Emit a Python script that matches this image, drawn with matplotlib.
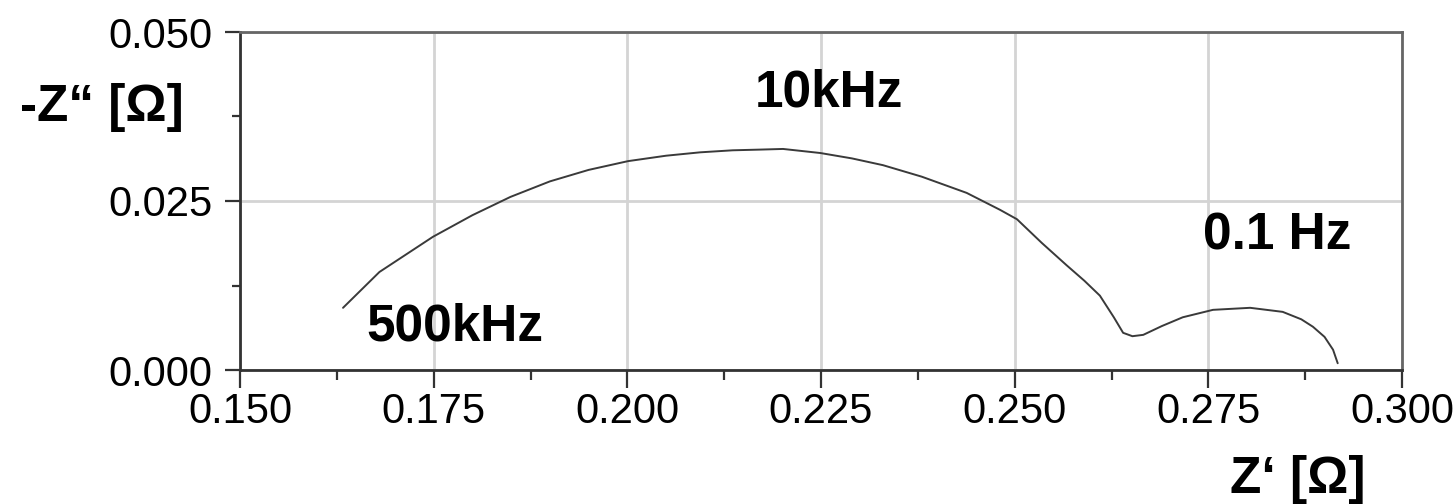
import matplotlib
matplotlib.use("Agg")
import matplotlib.pyplot as plt
from matplotlib.ticker import MultipleLocator, FormatStrFormatter

# Nyquist plot: real part Z' vs. negative imaginary part -Z''
z_real = [0.1633, 0.1680, 0.1749, 0.1800, 0.1849, 0.1900, 0.1950, 0.2001,
          0.2050, 0.2094, 0.2136, 0.2170, 0.2201, 0.2249, 0.2290, 0.2330,
          0.2380, 0.2438, 0.2481, 0.2503, 0.2535, 0.2567, 0.2590, 0.2610,
          0.2628, 0.2640, 0.2652, 0.2666, 0.2690, 0.2717, 0.2756, 0.2804,
          0.2846, 0.2870, 0.2885, 0.2900, 0.2911, 0.2917]
z_imag_neg = [0.0092, 0.0145, 0.0197, 0.0229, 0.0256, 0.0279, 0.0296, 0.0309,
              0.0317, 0.0322, 0.0325, 0.0326, 0.0327, 0.0321, 0.0313, 0.0303,
              0.0286, 0.0262, 0.0237, 0.0223, 0.0188, 0.0155, 0.0132, 0.0110,
              0.0078, 0.0055, 0.0050, 0.0052, 0.0065, 0.0078, 0.0089, 0.0092,
              0.0086, 0.0075, 0.0064, 0.0049, 0.0030, 0.0010]

x_ticks = [0.150, 0.175, 0.200, 0.225, 0.250, 0.275, 0.300]
y_ticks = [0.000, 0.025, 0.050]

freq_labels = ["500kHz", "10kHz", "0.1 Hz"]

W, H, DPI = 1456, 504, 100
plt.rcParams['font.family'] = ['Liberation Sans', 'DejaVu Sans']

fig = plt.figure(figsize=(W / DPI, H / DPI), dpi=DPI)
ax = fig.add_axes([240 / W, 1 - 370 / H, (1402 - 240) / W, (370 - 32) / H])

ax.plot(z_real, z_imag_neg, color='#3a3a3a', lw=1.4, solid_capstyle='round')

ax.set_xlim(x_ticks[0], x_ticks[-1])
ax.set_ylim(y_ticks[0], y_ticks[-1])
ax.set_xticks(x_ticks)
ax.set_yticks(y_ticks)
ax.xaxis.set_minor_locator(MultipleLocator(0.0125))
ax.yaxis.set_minor_locator(MultipleLocator(0.0125))
ax.xaxis.set_major_formatter(FormatStrFormatter('%.3f'))
ax.yaxis.set_major_formatter(FormatStrFormatter('%.3f'))

ax.grid(True, which='major', color='#d4d4d4', lw=2.0)
ax.set_axisbelow(True)

ax.tick_params(axis='x', which='major', direction='out', length=13, width=1.6,
               color='#333333', labelsize=30, pad=3)
ax.tick_params(axis='y', which='major', direction='out', length=11, width=1.6,
               color='#333333', labelsize=30, pad=9)
ax.tick_params(axis='x', which='minor', direction='out', length=7, width=1.6,
               color='#333333')
ax.tick_params(axis='y', which='minor', direction='out', length=6, width=1.6,
               color='#333333')

for side in ['left', 'bottom']:
    ax.spines[side].set_color('#333333')
    ax.spines[side].set_linewidth(2.0)
for side in ['top', 'right']:
    ax.spines[side].set_color('#666666')
    ax.spines[side].set_linewidth(2.0)

# Axis titles and frequency annotations
def px_text(x, y, s, size):
    fig.text(x / W, 1 - y / H, s, ha='center', va='center',
             fontsize=size, fontweight='bold', color='black')

px_text(102, 108, '-Z“ [Ω]', 37)
px_text(1298, 479, 'Z‘ [Ω]', 37)
px_text(455, 327, freq_labels[0], 37)
px_text(829, 93, freq_labels[1], 37)
px_text(1277, 236, freq_labels[2], 37)

fig.savefig('out.png', dpi=DPI, facecolor='white')
